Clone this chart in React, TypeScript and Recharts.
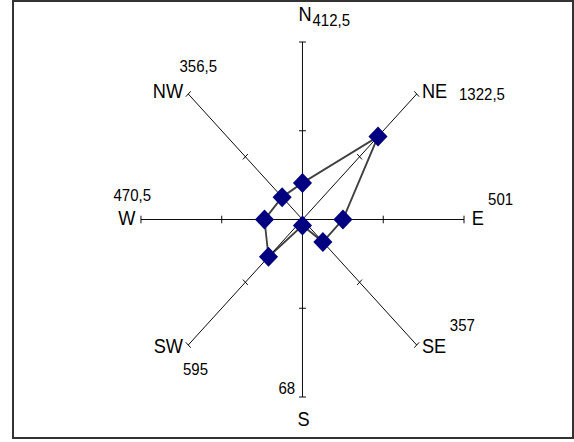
import React from 'react';
import { RadarChart, Radar, PolarAngleAxis, PolarRadiusAxis } from 'recharts';

// ---- data ----
const DIRECTIONS = ['N', 'NE', 'E', 'SE', 'S', 'SW', 'W', 'NW'];
const FREQUENCIES = [412.5, 1322.5, 501, 357, 68, 595, 470.5, 356.5];
const VALUE_LABELS = ['412,5', '1322,5', '501', '357', '68', '595', '470,5', '356,5'];
const RADIUS_DOMAIN: [number, number] = [0, 2000];
const RADIUS_TICKS = [1000, 2000];

const chartData = DIRECTIONS.map((dir, i) => ({ dir, value: FREQUENCIES[i], label: VALUE_LABELS[i] }));

// ---- layout / style ----
const SQUASH = 0.91;
const CHART_W = 631;
const CHART_H = 442;
const CX = 332.4;
const CY = 219.5;
const R = 177.5;
const FONT = '"Liberation Sans", Arial, Helvetica, sans-serif';
const DIR_FONT = 20;
const VAL_FONT = 16.5;

// text offsets relative to each spoke end (anchor: s=start, e=end)
const LABEL_LAYOUT: Record<string, { lx: number; ly: number; la: string; vx: number; vy: number; va: string }> = {
  N: { lx: -4.4, ly: -20.5, la: 'start', vx: 11, vy: -15.5, va: 'start' },
  NE: { lx: 5.8, ly: 4, la: 'start', vx: 46.5, vy: 6, va: 'start' },
  E: { lx: 8.6, ly: 6, la: 'start', vx: 26.4, vy: -14.5, va: 'start' },
  SE: { lx: 5.8, ly: 8, la: 'start', vx: 36.4, vy: -14, va: 'start' },
  S: { lx: -5.6, ly: 29.5, la: 'start', vx: -8, vy: -2.5, va: 'end' },
  SW: { lx: -5.8, ly: 8, la: 'end', vx: -5.8, vy: 30, va: 'start' },
  W: { lx: -6, ly: 6, la: 'end', vx: -30.2, vy: -18.5, va: 'start' },
  NW: { lx: -5.6, ly: 4, la: 'end', vx: -9.6, vy: -22, va: 'start' },
};

const rScale = (v: number) => (R * (v - RADIUS_DOMAIN[0])) / (RADIUS_DOMAIN[1] - RADIUS_DOMAIN[0]);

const AxisTick = (props: any) => {
  const { payload } = props;
  const dir = String(payload.value);
  const angle = Number(payload.coordinate);
  const rad = (-angle * Math.PI) / 180;
  const ux = Math.cos(rad);
  const uy = Math.sin(rad);
  const px = -uy;
  const py = ux;
  const end = { x: CX + ux * R, y: CY + uy * R };
  const item = chartData.find((d) => d.dir === dir);
  const lay = LABEL_LAYOUT[dir];
  const capLen = 3.8;
  return (
    <g>
      <line x1={CX} y1={CY} x2={end.x} y2={end.y} stroke="#000" strokeWidth={1} />
      {RADIUS_TICKS.map((t) => {
        const r = rScale(t);
        const cxp = CX + ux * r;
        const cyp = CY + uy * r;
        return (
          <line
            key={t}
            x1={cxp - px * capLen}
            y1={cyp - py * capLen}
            x2={cxp + px * capLen}
            y2={cyp + py * capLen}
            stroke="#000"
            strokeWidth={1}
          />
        );
      })}
      {lay && (
        <text
          x={end.x + lay.lx}
          y={end.y + lay.ly}
          textAnchor={lay.la as any}
          fontFamily={FONT}
          fontSize={DIR_FONT}
          fill="#000"
        >
          {dir}
        </text>
      )}
      {lay && item && (
        <text
          x={end.x + lay.vx}
          y={end.y + lay.vy}
          textAnchor={lay.va as any}
          fontFamily={FONT}
          fontSize={VAL_FONT}
          fill="#000"
        >
          {item.label}
        </text>
      )}
    </g>
  );
};

const Diamond = (props: any) => {
  const { cx, cy, index } = props;
  if (cx == null || cy == null) return <g key={`d-${index}`} />;
  const h = 10;
  const w = 10.5;
  return (
    <path
      key={`d-${index}`}
      d={`M${cx},${cy - h} L${cx + w},${cy} L${cx},${cy + h} L${cx - w},${cy} Z`}
      fill="#000080"
      stroke="none"
    />
  );
};

export default function App() {
  return (
    <div style={{ position: 'absolute', left: 0, top: 0, width: 574, height: 442, background: '#fff', overflow: 'hidden' }}>
      <div
        style={{
          position: 'absolute',
          left: 0,
          top: 0,
          width: CHART_W,
          height: CHART_H,
          transform: `scaleX(${SQUASH})`,
          transformOrigin: '0 0',
        }}
      >
        <RadarChart
          width={CHART_W}
          height={CHART_H}
          data={chartData}
          cx={CX}
          cy={CY}
          outerRadius={R}
          startAngle={90}
          endAngle={-270}
          margin={{ top: 0, right: 0, bottom: 0, left: 0 }}
        >
          <PolarAngleAxis dataKey="dir" axisLine={false} tickLine={false} tick={<AxisTick />} />
          <PolarRadiusAxis domain={RADIUS_DOMAIN} tick={false} axisLine={false} />
          <Radar
            dataKey="value"
            stroke="#404040"
            strokeWidth={2}
            fill="none"
            fillOpacity={0}
            dot={Diamond}
            activeDot={false}
            isAnimationActive={false}
          />
        </RadarChart>
      </div>
      <div
        style={{
          position: 'absolute',
          left: 12,
          top: 0,
          width: 562,
          height: 439,
          boxSizing: 'border-box',
          border: '2px solid #333',
          pointerEvents: 'none',
        }}
      />
    </div>
  );
}
